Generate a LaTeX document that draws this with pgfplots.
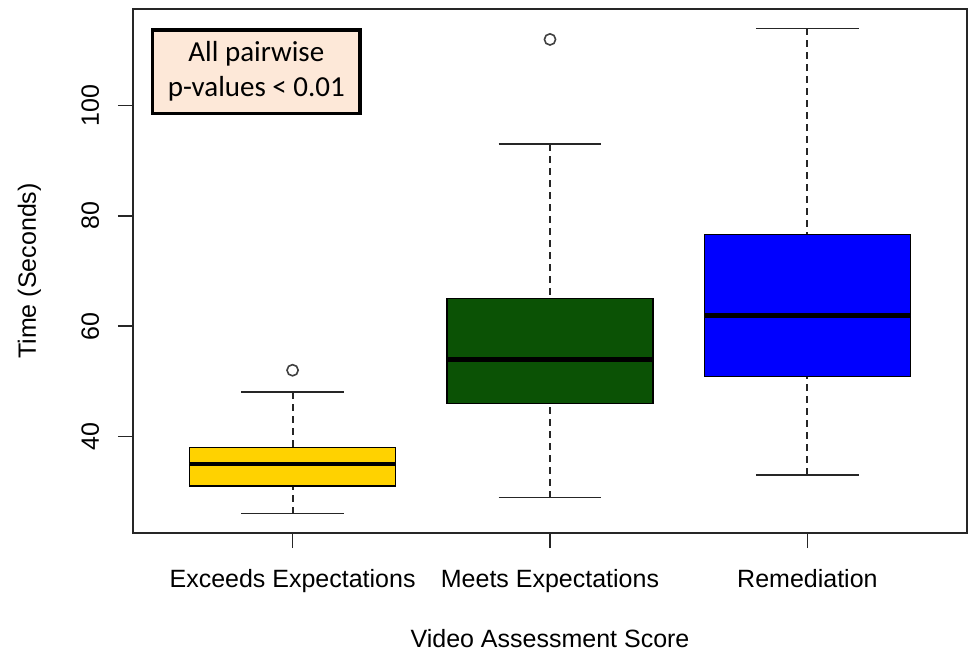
\documentclass[border=0pt]{standalone}
\usepackage{fontspec}
\setmainfont{Liberation Sans}
\newfontfamily\notefont{Carlito}
\usepackage{pgfplots}
\pgfplotsset{compat=1.18}
\usepgfplotslibrary{statistics}

\definecolor{boxyellow}{HTML}{FFD200}
\definecolor{boxgreen}{HTML}{0B5205}
\definecolor{boxblue}{HTML}{0000FF}
\definecolor{notefill}{HTML}{FDE8D8}

\tikzset{rwhisker/.style={line width=0.8pt, draw=black!85}}

\pgfplotsset{
  boxplot/draw/lower whisker/.code={%
    \draw[rwhisker, line width=0.95pt, dash pattern=on 3.5pt off 2.5pt, fill=none]
      (boxplot box cs:\pgfplotsboxplotvalue{lower whisker},0.5) --
      (boxplot box cs:\pgfplotsboxplotvalue{lower quartile},0.5);
    \draw[rwhisker, solid, fill=none]
      (boxplot whisker cs:\pgfplotsboxplotvalue{lower whisker},0) --
      (boxplot whisker cs:\pgfplotsboxplotvalue{lower whisker},1);
  },
  boxplot/draw/upper whisker/.code={%
    \draw[rwhisker, line width=0.95pt, dash pattern=on 3.5pt off 2.5pt, fill=none]
      (boxplot box cs:\pgfplotsboxplotvalue{upper whisker},0.5) --
      (boxplot box cs:\pgfplotsboxplotvalue{upper quartile},0.5);
    \draw[rwhisker, solid, fill=none]
      (boxplot whisker cs:\pgfplotsboxplotvalue{upper whisker},0) --
      (boxplot whisker cs:\pgfplotsboxplotvalue{upper whisker},1);
  },
}

\begin{document}
\begin{tikzpicture}
\path[use as bounding box] (-66.5pt,-60pt) rectangle (417.5pt,266.5pt);
\begin{axis}[
    scale only axis,
    width=417pt, height=262pt,
    xmin=0.38, xmax=3.62,
    ymin=22.48, ymax=117.52,
    axis line style={line width=0.9pt, black!85},
    xtick={1,2,3},
    xticklabels={Exceeds Expectations, Meets Expectations, Remediation},
    ytick={40,60,80,100},
    xtick pos=bottom, ytick pos=left,
    tick align=outside,
    major tick length=7.5pt,
    tick style={line width=0.7pt, black!85},
    font=\fontsize{12.5}{15}\selectfont,
    tick label style={font=\fontsize{12.5}{15}\selectfont},
    /pgf/number format/assume math mode=true,
    xticklabel style={anchor=base, inner sep=0pt, yshift=-19.85pt},
    yticklabel style={xshift=-9.5pt, rotate=90, anchor=base, inner sep=0pt},
    xlabel={Video Assessment Score},
    ylabel={Time (Seconds)},
    every axis x label/.style={at={(axis description cs:0.5,0)}, yshift=-57.35pt, anchor=base, inner sep=0pt},
    every axis y label/.style={at={(axis description cs:0,0.5)}, xshift=-48.5pt, rotate=90, anchor=base, inner sep=0pt},
    boxplot/draw direction=y,
    boxplot/box extend=0.8,
    boxplot/whisker extend=0.4,
    boxplot/every box/.style={line width=0.7pt, draw=black},
    boxplot/every median/.style={line width=2.4pt, draw=black},
]

% Exceeds Expectations
\addplot[
    boxplot prepared={draw position=1,
        lower whisker=26, lower quartile=31, median=35,
        upper quartile=38, upper whisker=48},
    fill=boxyellow, draw=black,
    mark=o, mark size=2.8pt,
    mark options={solid, draw=black!75, line width=0.8pt, fill=none},
    ]
    coordinates {(0,52)};

% Meets Expectations
\addplot[
    boxplot prepared={draw position=2,
        lower whisker=28.9, lower quartile=46, median=54,
        upper quartile=65, upper whisker=93},
    fill=boxgreen, draw=black,
    mark=o, mark size=2.8pt,
    mark options={solid, draw=black!75, line width=0.8pt, fill=none},
    ]
    coordinates {(0,112)};

% Remediation
\addplot[
    boxplot prepared={draw position=3,
        lower whisker=33, lower quartile=50.9, median=62,
        upper quartile=76.6, upper whisker=114},
    fill=boxblue, draw=black,
    ]
    coordinates {};

\node[draw=black, line width=1.7pt, fill=notefill,
      minimum width=103.7pt, minimum height=41.7pt,
      align=center, inner sep=0pt,
      font=\notefont\fontsize{14.5}{17.5}\selectfont]
  at (rel axis cs:0.1479,0.8804) {All pairwise\\p-values < 0.01};

\end{axis}
\end{tikzpicture}
\end{document}
